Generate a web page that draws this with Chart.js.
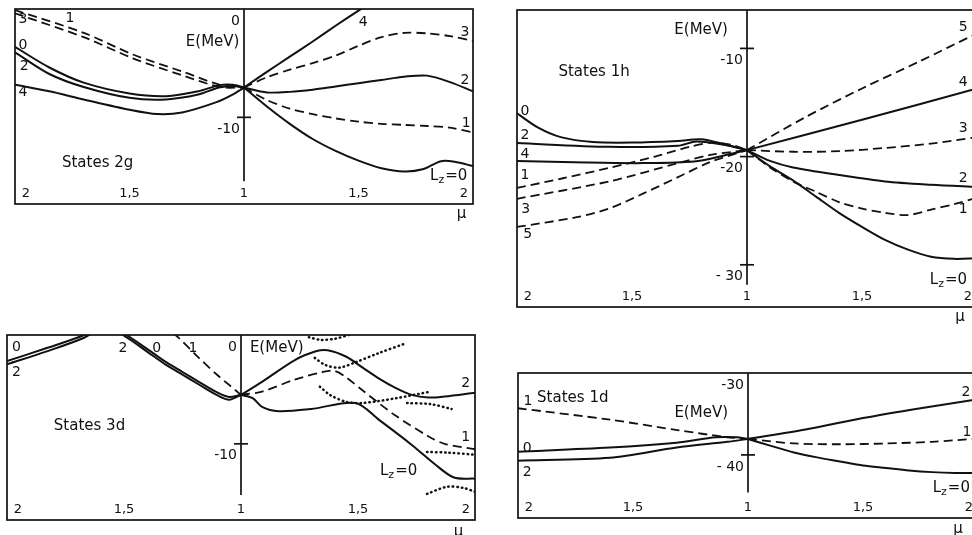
<!DOCTYPE html>
<html><head><meta charset="utf-8">
<script src="https://cdn.jsdelivr.net/npm/chart.js@4/dist/chart.umd.min.js"></script>
<style>
html,body{margin:0;padding:0;background:#fff;overflow:hidden;width:972px;height:535px;}
canvas{position:absolute;}
</style></head><body>
<canvas id="c1"></canvas><canvas id="c2"></canvas><canvas id="c3"></canvas><canvas id="c4"></canvas>
<script>
// x axis: t in [-1,1]; left half mu = 1 - t, right half mu = 1 + t
const xTickValues = [-1, -0.5, 0, 0.5, 1];
const xTickLabels = ['2', '1,5', '1', '1,5', '2'];

// ---------- States 2g ----------
const g2TickValues = [0, -10];
const g2TickLabels = ['0', '-10'];
const g2_L0_left = [[-1,-3.5],[-0.85,-5.4],[-0.7,-6.8],[-0.5,-7.8],[-0.34,-8.05],[-0.2,-7.6],[-0.11,-7.05],[-0.05,-7.0],[0,-7.25]];
const g2_L2_left = [[-1,-4.0],[-0.85,-6.0],[-0.7,-7.2],[-0.5,-8.2],[-0.34,-8.35],[-0.2,-7.9],[-0.11,-7.25],[-0.05,-7.1],[0,-7.25]];
const g2_L4_left = [[-1,-7.0],[-0.85,-7.6],[-0.7,-8.35],[-0.5,-9.3],[-0.38,-9.7],[-0.27,-9.55],[-0.12,-8.6],[-0.05,-7.9],[0,-7.25]];
const g2_L3_left = [[-1,-0.1],[-0.7,-2.2],[-0.485,-4.2],[-0.266,-5.8],[-0.105,-7.0],[0,-7.25]];
const g2_L1_left = [[-1,-0.4],[-0.7,-2.6],[-0.485,-4.55],[-0.266,-6.15],[-0.105,-7.2],[0,-7.25]];
const g2_L4_right = [[0,-7.25],[0.1,-5.8],[0.2,-4.4],[0.3,-3.0],[0.4,-1.55],[0.5,-0.15],[0.55,0.55]];
const g2_L3_right = [[0,-7.25],[0.1,-6.3],[0.2,-5.6],[0.3,-5.0],[0.4,-4.3],[0.5,-3.4],[0.6,-2.6],[0.7,-2.2],[0.8,-2.25],[0.9,-2.5],[1,-2.95]];
const g2_L2_right = [[0,-7.25],[0.1,-7.7],[0.2,-7.65],[0.3,-7.45],[0.4,-7.15],[0.5,-6.85],[0.6,-6.55],[0.7,-6.25],[0.8,-6.15],[0.9,-6.75],[1,-7.6]];
const g2_L1_right = [[0,-7.25],[0.1,-8.4],[0.2,-9.2],[0.3,-9.7],[0.4,-10.1],[0.5,-10.4],[0.6,-10.6],[0.7,-10.7],[0.8,-10.8],[0.9,-10.95],[1,-11.4]];
const g2_L0_right = [[0,-7.25],[0.1,-9.0],[0.2,-10.6],[0.3,-12.0],[0.4,-13.1],[0.5,-14.0],[0.6,-14.7],[0.7,-15.0],[0.78,-14.8],[0.86,-14.05],[0.92,-14.1],[1,-14.5]];

// ---------- States 1h ----------
const h1TickValues = [-10, -20, -30];
const h1TickLabels = ['-10', '-20', '- 30'];
const h1_L0_left = [[-1,-16.0],[-0.91,-17.3],[-0.81,-18.2],[-0.67,-18.65],[-0.5,-18.7],[-0.3,-18.55],[-0.2,-18.4],[-0.1,-18.85],[0,-19.4]];
const h1_L2_left = [[-1,-18.75],[-0.6,-19.1],[-0.3,-19.0],[-0.22,-18.6],[-0.1,-18.9],[0,-19.4]];
const h1_L4_left = [[-1,-20.4],[-0.7,-20.55],[-0.45,-20.6],[-0.23,-20.45],[-0.1,-19.9],[0,-19.4]];
const h1_L1_left = [[-1,-22.9],[-0.8,-22.0],[-0.6,-21.05],[-0.4,-20.0],[-0.25,-19.1],[-0.15,-18.7],[-0.06,-18.95],[0,-19.4]];
const h1_L3_left = [[-1,-23.9],[-0.6,-22.3],[-0.3,-20.6],[-0.16,-19.85],[0,-19.4]];
const h1_L5_left = [[-1,-26.5],[-0.74,-25.6],[-0.6,-24.8],[-0.45,-23.4],[-0.3,-21.9],[-0.16,-20.5],[0,-19.4]];
const h1_L5_right = [[0,-19.4],[0.25,-16.4],[0.5,-13.7],[0.75,-11.2],[1,-8.6]];
const h1_L4_right = [[0,-19.4],[0.5,-16.6],[1,-13.7]];
const h1_L3_right = [[0,-19.4],[0.2,-19.55],[0.4,-19.5],[0.6,-19.2],[0.8,-18.8],[1,-18.2]];
const h1_L2_right = [[0,-19.4],[0.1,-20.4],[0.2,-21.0],[0.4,-21.7],[0.6,-22.3],[0.8,-22.6],[1,-22.8]];
const h1_L1_right = [[0,-19.4],[0.1,-21.0],[0.2,-22.3],[0.3,-23.25],[0.4,-24.2],[0.5,-24.8],[0.6,-25.2],[0.7,-25.4],[0.8,-24.9],[0.9,-24.4],[1,-23.8]];
const h1_L0_right = [[0,-19.4],[0.1,-20.9],[0.2,-22.2],[0.3,-23.7],[0.4,-25.2],[0.5,-26.5],[0.6,-27.7],[0.7,-28.6],[0.8,-29.25],[0.9,-29.45],[1,-29.4]];

// ---------- States 3d ----------
const d3TickValues = [0, -10];
const d3TickLabels = ['0', '-10'];
const d3_L0_left = [[-1,-2.4],[-0.83,-1.2],[-0.67,0.0],[-0.58,1.0],[-0.49,0.0],[-0.4,-1.3],[-0.32,-2.5],[-0.25,-3.4],[-0.18,-4.3],[-0.1,-5.3],[-0.05,-5.7],[0,-5.5]];
const d3_L2_left = [[-1,-2.7],[-0.83,-1.5],[-0.67,-0.25],[-0.58,0.8],[-0.49,-0.2],[-0.4,-1.55],[-0.32,-2.75],[-0.25,-3.65],[-0.18,-4.55],[-0.1,-5.55],[-0.05,-5.95],[0,-5.5]];
const d3_L1_left = [[-0.34,0.9],[-0.28,0],[-0.18,-2.1],[-0.1,-3.7],[-0.05,-4.6],[0,-5.5]];
const d3_L2_right = [[0,-5.5],[0.09,-4.3],[0.23,-2.3],[0.32,-1.5],[0.37,-1.4],[0.45,-2.0],[0.52,-3.0],[0.59,-4.0],[0.66,-4.85],[0.73,-5.5],[0.8,-5.75],[0.87,-5.65],[1,-5.3]];
const d3_L1_right = [[0,-5.5],[0.09,-5.2],[0.23,-4.1],[0.35,-3.4],[0.4,-3.3],[0.45,-3.9],[0.52,-5.1],[0.66,-7.4],[0.8,-9.3],[0.87,-10.0],[1,-10.5]];
const d3_L0_right = [[0,-5.5],[0.05,-5.8],[0.09,-6.6],[0.16,-7.0],[0.3,-6.8],[0.49,-6.25],[0.59,-7.8],[0.73,-10.1],[0.83,-11.9],[0.91,-13.1],[1,-13.2]];
const d3_dotA = [[0.29,-0.2],[0.34,-0.45],[0.4,-0.35],[0.46,0.0]];
const d3_dotB = [[0.315,-2.1],[0.36,-2.75],[0.42,-3.0],[0.49,-2.5],[0.59,-1.65],[0.70,-0.8]];
const d3_dotC = [[0.337,-4.75],[0.38,-5.5],[0.45,-6.15],[0.52,-6.25],[0.665,-5.8],[0.81,-5.2]];
const d3_dotD = [[0.71,-6.25],[0.81,-6.35],[0.9,-6.8]];
const d3_dotE = [[0.795,-10.75],[0.88,-10.8],[1,-11.0]];
const d3_dotF = [[0.795,-14.6],[0.88,-13.95],[0.95,-14.05],[1,-14.4]];

// ---------- States 1d ----------
const d1TickValues = [-30, -40];
const d1TickLabels = ['-30', '- 40'];
const d1_L1_left = [[-1,-34.3],[-0.6,-35.7],[-0.3,-37.0],[-0.1,-37.8],[0,-38.05]];
const d1_L0_left = [[-1,-39.6],[-0.6,-39.1],[-0.31,-38.5],[-0.14,-37.85],[-0.05,-37.85],[0,-38.05]];
const d1_L2_left = [[-1,-40.7],[-0.6,-40.35],[-0.31,-39.1],[-0.09,-38.4],[0,-38.05]];
const d1_L2_right = [[0,-38.05],[0.25,-36.9],[0.5,-35.5],[0.75,-34.3],[1,-33.2]];
const d1_L1_right = [[0,-38.05],[0.2,-38.6],[0.4,-38.7],[0.6,-38.6],[0.8,-38.4],[1,-38.0]];
const d1_L0_right = [[0,-38.05],[0.1,-38.9],[0.2,-39.7],[0.3,-40.3],[0.4,-40.8],[0.5,-41.3],[0.6,-41.6],[0.7,-41.9],[0.8,-42.1],[0.9,-42.2],[1,-42.2]];

// ---------- rendering ----------
const FONT = '"DejaVu Sans", "Liberation Sans", sans-serif';
const INK = '#111111';

function ds(points, style) {
  const d = {
    data: points.map(p => ({x: p[0], y: p[1]})),
    borderColor: INK, borderWidth: 2, pointRadius: 0, fill: false,
    tension: 0.3, borderCapStyle: 'butt', borderJoinStyle: 'round'
  };
  if (style === 'dash') { d.borderDash = [9, 5]; d.borderWidth = 1.8; }
  if (style === 'dot') { d.borderDash = [0.5, 4]; d.borderWidth = 2.5; d.borderCapStyle = 'round'; }
  return d;
}

function drawLz(ctx, x, y, align) {
  ctx.font = `15px ${FONT}`;
  const wL = ctx.measureText('L').width;
  const wE = ctx.measureText('=0').width;
  ctx.font = `11px ${FONT}`;
  const wz = ctx.measureText('z').width;
  const total = wL + wz + 1 + wE;
  const x0 = align === 'left' ? x : x - total;
  ctx.textAlign = 'left';
  ctx.font = `15px ${FONT}`; ctx.fillText('L', x0, y);
  ctx.font = `11px ${FONT}`; ctx.fillText('z', x0 + wL, y + 4);
  ctx.font = `15px ${FONT}`; ctx.fillText('=0', x0 + wL + wz + 1, y);
}

const decoPlugin = {
  id: 'deco',
  afterDatasetsDraw(chart, args, o) {
    const {ctx, chartArea: a, scales: {x, y}} = chart;
    ctx.save();
    ctx.strokeStyle = INK; ctx.fillStyle = INK; ctx.lineWidth = 1.7;
    ctx.strokeRect(a.left, a.top, a.right - a.left, a.bottom - a.top);
    const cx = x.getPixelForValue(0);
    ctx.beginPath(); ctx.moveTo(cx, a.top); ctx.lineTo(cx, y.getPixelForValue(o.axisEnd)); ctx.stroke();
    ctx.textBaseline = 'middle';
    ctx.font = `14px ${FONT}`;
    o.yTicks.forEach((v, i) => {
      const py = y.getPixelForValue(v);
      if (py > a.top + 3) { ctx.beginPath(); ctx.moveTo(cx - 7, py); ctx.lineTo(cx + 7, py); ctx.stroke(); }
      ctx.textAlign = 'right';
      ctx.fillText(o.yLabels[i], cx - 4, py + 12);
    });
    ctx.font = `13px ${FONT}`; ctx.textAlign = 'center';
    xTickValues.forEach((v, i) => {
      let px = x.getPixelForValue(v);
      if (v === -1) px += 11;
      if (v === 1) px -= 9;
      ctx.fillText(xTickLabels[i], px, a.bottom - 10);
    });
    o.notes.forEach(n => {
      const px = x.getPixelForValue(n.t), py = y.getPixelForValue(n.e);
      if (n.lz) { drawLz(ctx, px, py, n.align || 'right'); return; }
      ctx.font = `${n.size || 14}px ${FONT}`;
      ctx.textAlign = n.align || 'center';
      ctx.fillText(n.text, px, py);
    });
    ctx.restore();
  }
};

function makePanel(id, box, yMin, yMax, datasets, opts) {
  const pad = {left: 6, top: 6, right: 6, bottom: 34};
  const c = document.getElementById(id);
  const w = box.r - box.l + pad.left + pad.right;
  const h = box.b - box.t + pad.top + pad.bottom;
  c.width = w; c.height = h;
  c.style.width = w + 'px'; c.style.height = h + 'px';
  c.style.left = (box.l - pad.left) + 'px'; c.style.top = (box.t - pad.top) + 'px';
  new Chart(c, {
    type: 'line',
    data: {datasets},
    options: {
      responsive: false, animation: false, devicePixelRatio: 1, events: [],
      layout: {padding: pad},
      scales: {
        x: {type: 'linear', min: -1, max: 1, display: false},
        y: {type: 'linear', min: yMin, max: yMax, display: false}
      },
      plugins: {legend: {display: false}, tooltip: {enabled: false}, deco: opts}
    },
    plugins: [decoPlugin]
  });
}

makePanel('c1', {l: 15, t: 9, r: 473, b: 204}, -18, 0, [
  ds(g2_L0_left), ds(g2_L2_left), ds(g2_L4_left), ds(g2_L3_left, 'dash'), ds(g2_L1_left, 'dash'),
  ds(g2_L4_right), ds(g2_L3_right, 'dash'), ds(g2_L2_right), ds(g2_L1_right, 'dash'), ds(g2_L0_right)
], {
  axisEnd: -15.9, yTicks: g2TickValues, yLabels: g2TickLabels,
  notes: [
    {text: '3', t: -0.965, e: -1.0}, {text: '1', t: -0.76, e: -0.85},
    {text: '0', t: -0.965, e: -3.4}, {text: '2', t: -0.96, e: -5.3}, {text: '4', t: -0.965, e: -7.7},
    {text: 'E(MeV)', t: -0.02, e: -3.1, align: 'right', size: 15},
    {text: 'States 2g', t: -0.795, e: -14.2, align: 'left', size: 15},
    {text: '4', t: 0.52, e: -1.2}, {text: '3', t: 0.965, e: -2.2}, {text: '2', t: 0.965, e: -6.6},
    {text: '1', t: 0.97, e: -10.6}, {lz: true, t: 0.975, e: -15.4},
    {text: 'μ', t: 0.95, e: -18.9, size: 15}
  ]
});

makePanel('c2', {l: 517, t: 10, r: 977, b: 307}, -33.9, -6.45, [
  ds(h1_L0_left), ds(h1_L2_left), ds(h1_L4_left), ds(h1_L1_left, 'dash'), ds(h1_L3_left, 'dash'), ds(h1_L5_left, 'dash'),
  ds(h1_L5_right, 'dash'), ds(h1_L4_right), ds(h1_L3_right, 'dash'), ds(h1_L2_right), ds(h1_L1_right, 'dash'), ds(h1_L0_right)
], {
  axisEnd: -31.85, yTicks: h1TickValues, yLabels: h1TickLabels,
  notes: [
    {text: '0', t: -0.965, e: -15.8}, {text: '2', t: -0.965, e: -18.0}, {text: '4', t: -0.965, e: -19.75},
    {text: '1', t: -0.965, e: -21.75}, {text: '3', t: -0.962, e: -24.9}, {text: '5', t: -0.953, e: -27.2},
    {text: 'E(MeV)', t: -0.083, e: -8.3, align: 'right', size: 15},
    {text: 'States 1h', t: -0.82, e: -12.2, align: 'left', size: 15},
    {text: '5', t: 0.94, e: -8.1}, {text: '4', t: 0.94, e: -13.1}, {text: '3', t: 0.94, e: -17.4},
    {text: '2', t: 0.94, e: -22.0}, {text: '1', t: 0.94, e: -24.9},
    {lz: true, t: 0.957, e: -31.4},
    {text: 'μ', t: 0.926, e: -34.8, size: 15}
  ]
});

makePanel('c3', {l: 7, t: 335, r: 475, b: 520}, -17, 0, [
  ds(d3_L0_left), ds(d3_L2_left), ds(d3_L1_left, 'dash'),
  ds(d3_L2_right), ds(d3_L1_right, 'dash'), ds(d3_L0_right),
  ds(d3_dotA, 'dot'), ds(d3_dotB, 'dot'), ds(d3_dotC, 'dot'), ds(d3_dotD, 'dot'), ds(d3_dotE, 'dot'), ds(d3_dotF, 'dot')
], {
  axisEnd: -14.7, yTicks: d3TickValues, yLabels: d3TickLabels,
  notes: [
    {text: '0', t: -0.96, e: -1.1}, {text: '2', t: -0.96, e: -3.45},
    {text: '2', t: -0.504, e: -1.2}, {text: '0', t: -0.36, e: -1.2}, {text: '1', t: -0.205, e: -1.2},
    {text: 'E(MeV)', t: 0.038, e: -1.2, align: 'left', size: 15},
    {text: 'States 3d', t: -0.80, e: -8.4, align: 'left', size: 15},
    {text: '2', t: 0.96, e: -4.4}, {text: '1', t: 0.96, e: -9.45},
    {lz: true, t: 0.594, e: -12.5, align: 'left'},
    {text: 'μ', t: 0.93, e: -18.1, size: 15}
  ]
});

makePanel('c4', {l: 518, t: 373, r: 978, b: 518}, -47.7, -30, [
  ds(d1_L1_left, 'dash'), ds(d1_L0_left), ds(d1_L2_left),
  ds(d1_L2_right), ds(d1_L1_right, 'dash'), ds(d1_L0_right)
], {
  axisEnd: -44.6, yTicks: d1TickValues, yLabels: d1TickLabels,
  notes: [
    {text: 'States 1d', t: -0.917, e: -33.05, align: 'left', size: 15},
    {text: 'E(MeV)', t: -0.087, e: -34.9, align: 'right', size: 15},
    {text: '1', t: -0.957, e: -33.5}, {text: '0', t: -0.96, e: -39.15}, {text: '2', t: -0.96, e: -42.1},
    {text: '2', t: 0.948, e: -32.4}, {text: '1', t: 0.952, e: -37.2},
    {lz: true, t: 0.965, e: -44.0},
    {text: 'μ', t: 0.913, e: -49.1, size: 15}
  ]
});
</script>
</body></html>
